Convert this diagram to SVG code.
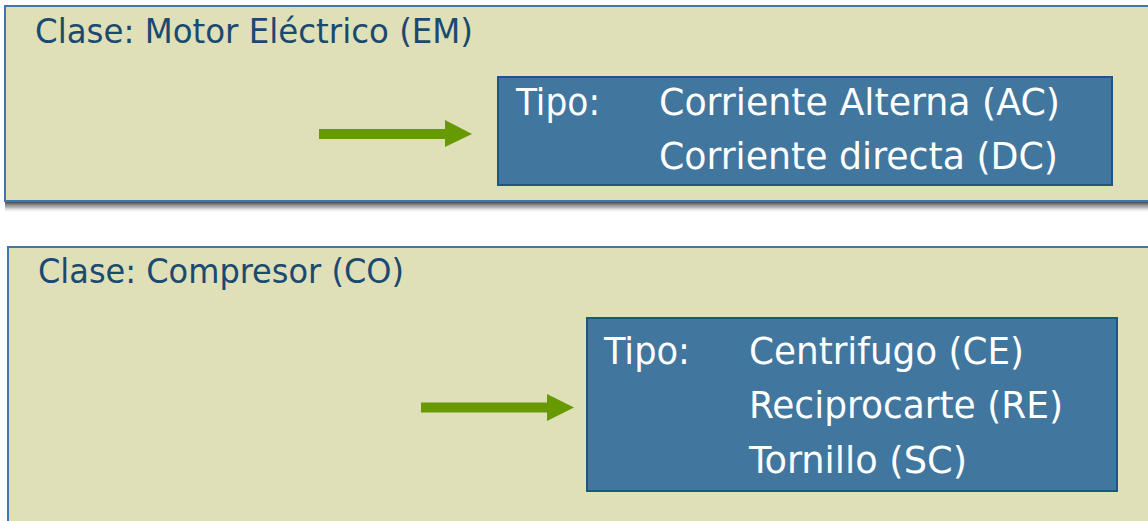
<svg xmlns="http://www.w3.org/2000/svg" width="1148" height="521" viewBox="0 0 1148 521">
  <defs>
    <linearGradient id="shadow" x1="0" y1="0" x2="0" y2="1">
      <stop offset="0" stop-color="#4a4a4a" stop-opacity="1"/>
      <stop offset="0.5" stop-color="#9a9a9a" stop-opacity="0.7"/>
      <stop offset="1" stop-color="#ffffff" stop-opacity="0"/>
    </linearGradient>
    <style>
      .panel { fill: #dfdfb8; stroke: #4277a5; stroke-width: 2; }
      .box { fill: #41769e; stroke: #1d5586; stroke-width: 2; }
      .title { font-family: "DejaVu Sans Condensed", "DejaVu Sans", sans-serif; font-size: 34px; fill: #1a4a70; }
      .item { font-family: "DejaVu Sans Condensed", "DejaVu Sans", sans-serif; font-size: 38px; fill: #ffffff; }
      .arrow { fill: #669a00; }
    </style>
  </defs>
  <rect width="1148" height="521" fill="#ffffff"/>

  <g id="clase-em">
    <rect x="5" y="202" width="1150" height="11" fill="url(#shadow)"/>
    <rect class="panel" x="5" y="6" width="1150" height="195"/>
    <text class="title" x="35" y="43" textLength="438" lengthAdjust="spacingAndGlyphs">Clase: Motor Eléctrico (EM)</text>
  </g>

  <g id="tipo-em">
    <rect class="box" x="498" y="77" width="614" height="108"/>
    <text class="item" x="516" y="115" textLength="84" lengthAdjust="spacingAndGlyphs">Tipo:</text>
    <text class="item" x="659" y="115" textLength="401" lengthAdjust="spacingAndGlyphs">Corriente Alterna (AC)</text>
    <text class="item" x="659" y="169" textLength="399" lengthAdjust="spacingAndGlyphs">Corriente directa (DC)</text>
  </g>

  <g id="clase-co">
    <rect class="panel" x="8" y="247" width="1150" height="300"/>
    <text class="title" x="38" y="283" textLength="366" lengthAdjust="spacingAndGlyphs">Clase: Compresor (CO)</text>
  </g>

  <g id="tipo-co">
    <rect class="box" x="587" y="318" width="530" height="173"/>
    <text class="item" x="604" y="364" textLength="86" lengthAdjust="spacingAndGlyphs">Tipo:</text>
    <text class="item" x="749" y="364" textLength="275" lengthAdjust="spacingAndGlyphs">Centrifugo (CE)</text>
    <text class="item" x="749" y="418" textLength="314" lengthAdjust="spacingAndGlyphs">Reciprocarte (RE)</text>
    <text class="item" x="749" y="473" textLength="218" lengthAdjust="spacingAndGlyphs">Tornillo (SC)</text>
  </g>

  <g id="connectors">
    <polygon class="arrow" points="319,129 445,129 445,120 472,134 445,147 445,139 319,139"/>
    <polygon class="arrow" points="421,402.5 547,402.5 547,394 574,407.5 547,421 547,412.5 421,412.5"/>
  </g>
</svg>
